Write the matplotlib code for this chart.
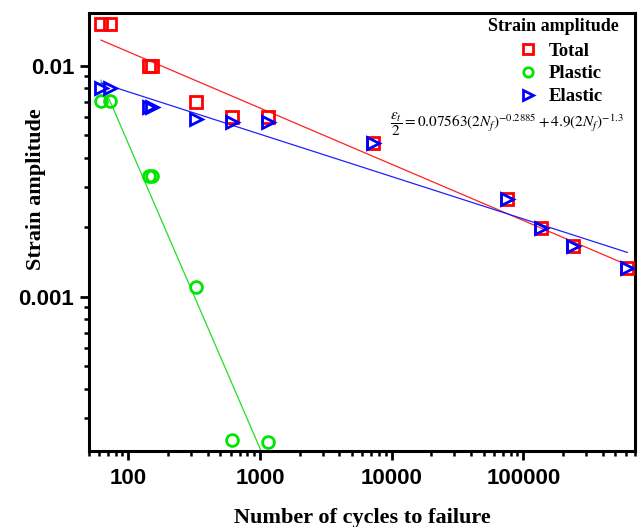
import numpy as np
import matplotlib
matplotlib.use("Agg")
import matplotlib.pyplot as plt
from matplotlib.ticker import LogLocator, FixedLocator, NullFormatter

# Fatigue life data (cycles to failure vs strain amplitude)
cycles = [62, 73, 144, 151, 326, 612, 1160, 7230, 75400, 135000, 239000, 615000]
total_strain = [0.0151, 0.0151, 0.0100, 0.0100, 0.0070, 0.0060, 0.0060,
                0.00464, 0.00265, 0.00199, 0.00166, 0.00133]
elastic_strain = [0.0080, 0.0080, 0.0066, 0.0066, 0.00586, 0.0057, 0.0057,
                  0.00464, 0.00265, 0.00199, 0.00166, 0.00133]
plastic_cycles = [62, 73, 144, 151, 326, 612, 1160]
plastic_strain = [0.00705, 0.00705, 0.00333, 0.00333, 0.0011, 0.00024, 0.000235]

x_ticks = [100, 1000, 10000, 100000]
x_tick_labels = ["100", "1000", "10000", "100000"]
y_ticks = [0.001, 0.01]
y_tick_labels = ["0.001", "0.01"]

plt.rcParams['mathtext.fontset'] = 'stix'

serif = 'Liberation Serif'
sans = 'Liberation Sans'


def power_fit(x, y):
    # straight line in log-log space over the data range
    lx, ly = np.log10(x), np.log10(y)
    k, b = np.polyfit(lx, ly, 1)
    xs = np.logspace(lx.min(), lx.max(), 200)
    return xs, 10 ** (k * np.log10(xs) + b)


fig = plt.figure(figsize=(6.38, 5.27), dpi=100)
ax = fig.add_axes([0.139, 0.1448, 0.8557, 0.8311])

ax.set_xscale('log')
ax.set_yscale('log')

# fit lines
for xd, yd, c in [(cycles, total_strain, '#ff2020'),
                  (plastic_cycles, plastic_strain, '#20e020'),
                  (cycles, elastic_strain, '#2020ff')]:
    xs, ys = power_fit(np.array(xd, float), np.array(yd, float))
    ax.plot(xs, ys, color=c, lw=0.9, zorder=2)

ax.plot(cycles, total_strain, 's', ms=8.5, mfc='none', mec='#ff0000', mew=2,
        label='Total', zorder=3, clip_on=False)
ax.plot(plastic_cycles, plastic_strain, 'o', ms=8.5, mfc='none', mec='#00e600', mew=2,
        label='Plastic', zorder=3)
ax.plot(cycles, elastic_strain, '>', ms=9, mfc='none', mec='#0000ff', mew=2,
        label='Elastic', zorder=4, clip_on=False)

ax.set_xlim(50, 700000)
ax.set_ylim(0.000216, 0.01696)

ax.xaxis.set_major_locator(FixedLocator(x_ticks))
ax.set_xticklabels(x_tick_labels)
ax.yaxis.set_major_locator(FixedLocator(y_ticks))
ax.set_yticklabels(y_tick_labels)
ax.xaxis.set_minor_locator(LogLocator(base=10, subs=np.arange(2, 10)))
ax.yaxis.set_minor_locator(LogLocator(base=10, subs=np.arange(2, 10)))
ax.xaxis.set_minor_formatter(NullFormatter())
ax.yaxis.set_minor_formatter(NullFormatter())

ax.tick_params(which='major', direction='out', length=6.5, width=2,
               labelsize=16, pad=4)
ax.tick_params(axis='x', which='major', pad=6)
ax.tick_params(which='minor', direction='out', length=3.8, width=1.8)
for lab in ax.get_xticklabels() + ax.get_yticklabels():
    lab.set_fontfamily(sans)
    lab.set_fontweight('bold')

for sp in ax.spines.values():
    sp.set_linewidth(2.2)

ax.set_xlabel('Number of cycles to failure', fontfamily=serif, fontweight='bold',
              fontsize=16, va='center')
ax.xaxis.set_label_coords(0.5006, -0.153)
ax.set_ylabel('Strain amplitude', fontfamily=serif, fontweight='bold',
              fontsize=16, va='center')
ax.yaxis.set_label_coords(-0.097, 0.597)

# legend entries, with the heading placed as its own text
leg = ax.legend(loc='upper left', bbox_to_anchor=(0.7735, 0.949), frameon=False,
                prop={'family': serif, 'weight': 'bold', 'size': 13.5},
                markerscale=0.8, handlelength=1.0, handletextpad=0.6,
                labelspacing=0.3, borderaxespad=0.0)
ax.text(0.852, 0.969, 'Strain amplitude', transform=ax.transAxes,
        ha='center', va='center', fontfamily=serif, fontweight='bold', fontsize=13)

ax.text(0.98, 0.746,
        r'$\dfrac{\varepsilon_t}{2}=0.07563(2N_f)^{-0.2885}+4.9(2N_f)^{-1.3}$',
        transform=ax.transAxes, ha='right', va='center', fontsize=11)

fig.savefig('out.png', dpi=100)
